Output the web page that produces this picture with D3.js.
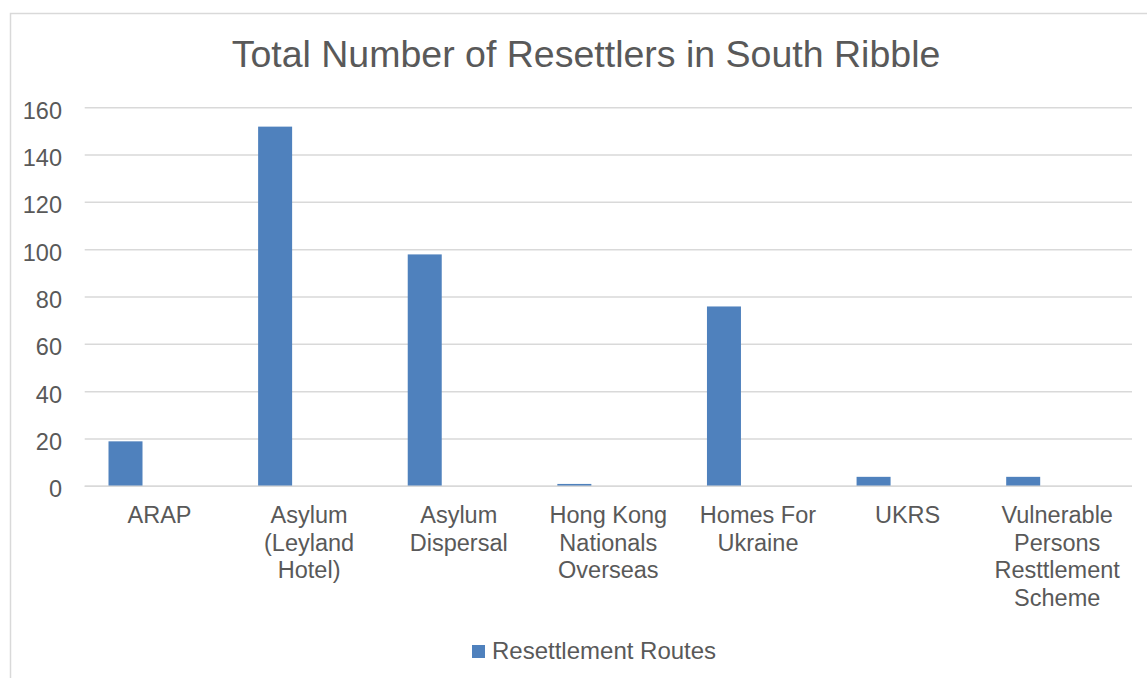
<!DOCTYPE html>
<html>
<head>
<meta charset="utf-8">
<script src="https://cdn.jsdelivr.net/npm/d3@7"></script>
<style>
  body { margin: 0; background: #fff; }
  text { font-family: "Liberation Sans", Arial, sans-serif; fill: #595959; }
</style>
</head>
<body>
<script>
// chart data
var categories = ["ARAP", "Asylum (Leyland Hotel)", "Asylum Dispersal", "Hong Kong Nationals Overseas",
                  "Homes For Ukraine", "UKRS", "Vulnerable Persons Resttlement Scheme"];
var resettlers = [19, 152, 98, 1, 76, 4, 4];
var seriesName = "Resettlement Routes";
var seriesSlots = [0, 1, 2]; // excel cluster had 3 slots, only the first one is filled
var yTicks = [0, 20, 40, 60, 80, 100, 120, 140, 160];
var title = "Total Number of Resettlers in South Ribble";

function drawChart(){
  var width = 1147, height = 678;
  var plotLeft = 84.7, plotRight = 1132, plotTop = 107.7, plotBottom = 486.3;

  var svg = d3.select("body").append("svg")
      .attr("width", width)
      .attr("height", height);

  // chart frame
  svg.append("path")
     .attr("d", "M10.5," + height + "V13.5H" + width)
     .attr("fill", "none")
     .attr("stroke", "#d9d9d9")
     .attr("stroke-width", 1.5);

  svg.append("text")
     .attr("x", 586)
     .attr("y", 67)
     .attr("text-anchor", "middle")
     .style("font-size", "37.5px")
     .text(title);

  var x = d3.scaleBand()
      .domain(categories)
      .range([plotLeft, plotRight]);

  var xInner = d3.scaleBand()
      .domain(seriesSlots)
      .range([0, x.bandwidth()])
      .paddingOuter(0.7);

  var y = d3.scaleLinear()
      .domain([0, 160])
      .range([plotBottom, plotTop]);

  // gridlines
  svg.append("g")
     .selectAll("line")
     .data(yTicks)
     .enter().append("line")
     .attr("x1", plotLeft)
     .attr("x2", plotRight)
     .attr("y1", function(d){ return y(d); })
     .attr("y2", function(d){ return y(d); })
     .attr("stroke", "#d9d9d9")
     .attr("stroke-width", 1.5);

  // y axis labels
  var yAxis = d3.axisLeft(y).tickValues(yTicks).tickSize(0).tickPadding(22.7);
  var yg = svg.append("g")
     .attr("transform", "translate(" + plotLeft + ",0)")
     .call(yAxis);
  yg.select(".domain").remove();
  yg.attr("font-family", null).attr("font-size", null);
  yg.selectAll("text")
    .style("font-size", "23.5px")
    .attr("dy", "0.45em")
    .attr("fill", "#595959");

  // bars
  svg.append("g")
     .selectAll("rect")
     .data(resettlers)
     .enter().append("rect")
     .attr("x", function(d, i){ return x(categories[i]) + xInner(0); })
     .attr("width", xInner.bandwidth())
     .attr("y", function(d){ return y(d); })
     .attr("height", function(d){ return y(0) - y(d); })
     .attr("fill", "#4f81bd");

  // x axis line drawn again above bars
  svg.append("line")
     .attr("x1", plotLeft).attr("x2", plotRight)
     .attr("y1", y(0)).attr("y2", y(0))
     .attr("stroke", "#d9d9d9")
     .attr("stroke-width", 1.5);

  // category labels, word wrapped in the band
  var maxW = x.bandwidth() - 6;
  categories.forEach(function(c){
    var cx = x(c) + x.bandwidth() / 2;
    var t = svg.append("text")
       .attr("x", cx)
       .attr("y", 523)
       .attr("text-anchor", "middle")
       .style("font-size", "23.5px");
    var words = c.split(" ");
    var line = [];
    var tspan = t.append("tspan").attr("x", cx).attr("dy", 0);
    words.forEach(function(w){
      line.push(w);
      tspan.text(line.join(" "));
      if (tspan.node().getComputedTextLength() > maxW && line.length > 1) {
        line.pop();
        tspan.text(line.join(" "));
        line = [w];
        tspan = t.append("tspan")
                 .attr("x", cx)
                 .attr("dy", 27.7)
                 .text(w);
      }
    });
  });

  // legend
  var legend = svg.append("g").attr("transform", "translate(472,645)");
  legend.append("rect")
     .attr("width", 13).attr("height", 13)
     .attr("fill", "#4f81bd");
  legend.append("text")
     .attr("x", 20).attr("y", 14)
     .style("font-size", "24px")
     .text(seriesName);
}

drawChart();
</script>
</body>
</html>
